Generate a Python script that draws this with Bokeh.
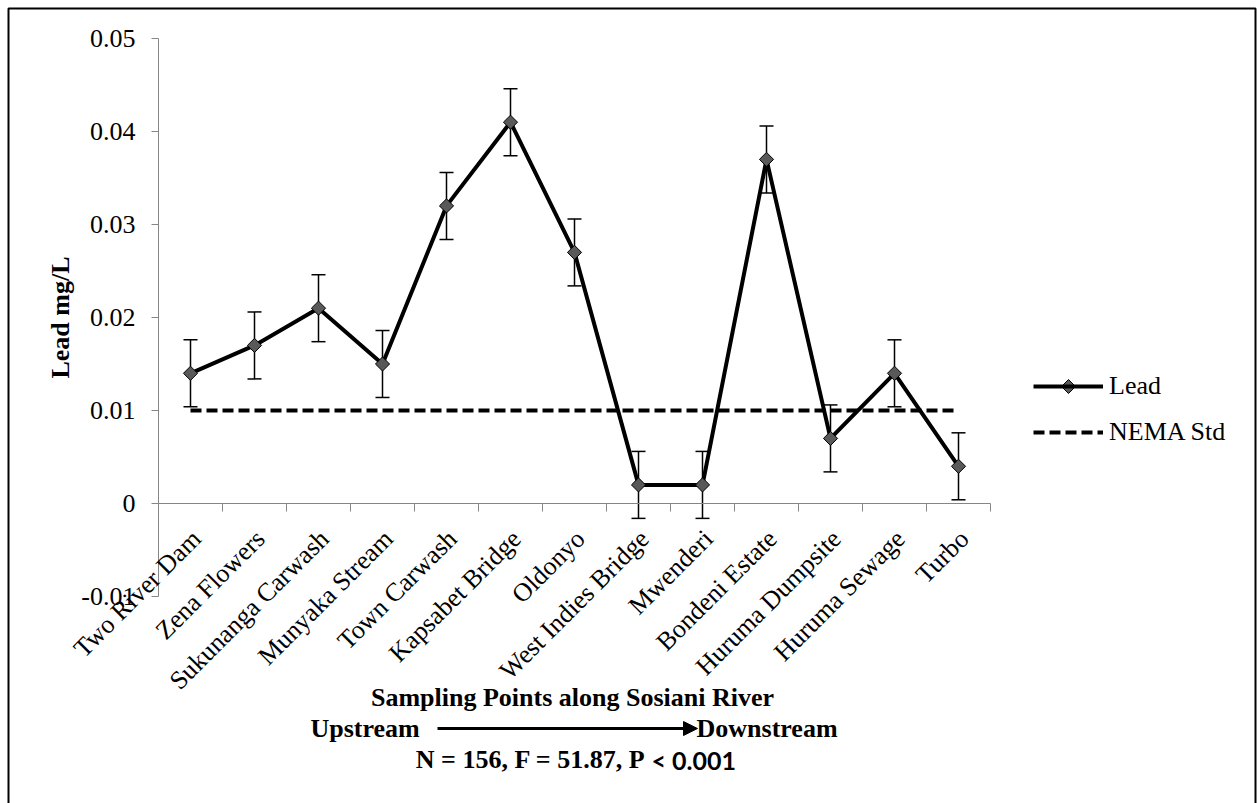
import math
from bokeh.plotting import figure
from bokeh.models import (Range1d, FixedTicker, ColumnDataSource, Whisker, TeeHead,
                          LabelSet, Label, Legend, LegendItem, Arrow, NormalHead, PolyAnnotation)
from bokeh.embed import file_html
from bokeh.resources import INLINE

# ---------------- data ----------------
categories = ["Two River Dam", "Zena Flowers", "Sukunanga Carwash", "Munyaka Stream",
              "Town Carwash", "Kapsabet Bridge", "Oldonyo", "West Indies Bridge",
              "Mwenderi", "Bondeni Estate", "Huruma Dumpsite", "Huruma Sewage", "Turbo"]
lead = [0.014, 0.017, 0.021, 0.015, 0.032, 0.041, 0.027, 0.002, 0.002, 0.037, 0.007, 0.014, 0.004]
lead_err = [0.0036, 0.0036, 0.0036, 0.0036, 0.0036, 0.0036, 0.0036,
            0.0036, 0.0036, 0.0036, 0.0036, 0.0036, 0.0036]
nema_std = [0.01, 0.01, 0.01, 0.01, 0.01, 0.01, 0.01, 0.01, 0.01, 0.01, 0.01, 0.01, 0.01]
y_ticks = [-0.01, 0, 0.01, 0.02, 0.03, 0.04, 0.05]
y_tick_labels = ["-0.01", "0", "0.01", "0.02", "0.03", "0.04", "0.05"]
y_title = "Lead mg/L"
x_title = "Sampling Points along Sosiani River"
stats_a = "N = 156, F = 51.87, P"
stats_b = "< 0.001"

# ---------------- layout (pixels in the page) ----------------
W, H = 1257, 803
AX_LEFT, AX_RIGHT = 158, 990       # x axis from first to last category boundary
AX_TOP, AX_BOTTOM = 38, 596        # y axis from 0.05 down to -0.01
n = len(categories)
y_lo, y_hi = y_ticks[0], y_ticks[-1]
px_per_x = (AX_RIGHT - AX_LEFT) / n
px_per_y = (AX_BOTTOM - AX_TOP) / (y_hi - y_lo)
# the plotting frame covers the whole canvas; ranges chosen so axes land on the pixels above
x_start = -AX_LEFT / px_per_x
x_end = n + (W - AX_RIGHT) / px_per_x
y_end = y_hi + AX_TOP / px_per_y
y_start = y_lo - (H - AX_BOTTOM) / px_per_y

SERIF = "Liberation Serif"
FS = "26px"


def sx(px):
    return px


def sy(py):
    return H - py


xs = [i + 0.5 for i in range(n)]

p = figure(width=W, height=H, x_range=Range1d(x_start, x_end), y_range=Range1d(y_start, y_end),
           output_backend="svg", toolbar_location=None,
           min_border_left=0, min_border_right=0, min_border_top=0, min_border_bottom=0)
p.outline_line_color = None
p.xgrid.visible = False
p.ygrid.visible = False
p.background_fill_color = "white"
p.border_fill_color = "white"

AX = "#868686"
# x axis drawn at y = 0
p.xaxis.fixed_location = 0
p.xaxis.bounds = (0, n)
p.xaxis.ticker = FixedTicker(ticks=list(range(n + 1)))
p.xaxis.major_label_overrides = {i: "" for i in range(n + 1)}
p.xaxis.major_label_text_font_size = "1px"
p.xaxis.major_tick_out = 8
p.xaxis.major_tick_in = 0
p.xaxis.minor_tick_line_color = None
p.xaxis.axis_line_color = AX
p.xaxis.major_tick_line_color = AX

# y axis drawn at x = 0
p.yaxis.fixed_location = 0
p.yaxis.bounds = (y_lo, y_hi)
p.yaxis.ticker = FixedTicker(ticks=y_ticks)
p.yaxis.major_label_overrides = dict(zip(y_ticks, y_tick_labels))
p.yaxis.major_tick_out = 7
p.yaxis.major_tick_in = 0
p.yaxis.minor_tick_line_color = None
p.yaxis.axis_line_color = AX
p.yaxis.major_tick_line_color = AX
p.yaxis.major_label_text_font = SERIF
p.yaxis.major_label_text_font_size = FS
p.yaxis.major_label_text_color = "black"
p.yaxis.major_label_standoff = 16

# y axis title
p.add_layout(Label(x=sx(60), y=sy(317), x_units="screen", y_units="screen", text=y_title,
                   angle=math.pi / 2, text_align="center", text_baseline="middle",
                   text_font=SERIF, text_font_size=FS, text_font_style="bold",
                   text_color="black"))

# error bars
err_src = ColumnDataSource(dict(x=xs,
                                upper=[v + e for v, e in zip(lead, lead_err)],
                                lower=[v - e for v, e in zip(lead, lead_err)]))
whisk = Whisker(source=err_src, base="x", upper="upper", lower="lower", dimension="height",
                line_color="black", line_width=1.5, level="underlay",
                upper_head=TeeHead(size=14, line_color="black", line_width=1.5),
                lower_head=TeeHead(size=14, line_color="black", line_width=1.5))
p.add_layout(whisk)

nema_r = p.line(xs, nema_std, line_color="black", line_width=4, line_dash="11 5")
lead_r = p.line(xs, lead, line_color="black", line_width=4)
mark_r = p.scatter(xs, lead, marker="square", angle=math.pi / 4, size=10,
                   fill_color="#595959", line_color="black", line_width=1)

# category labels (rotated, ending just below the x axis)
lab_src = ColumnDataSource(dict(x=xs, text=categories))
labels = LabelSet(x="x", y=0, text="text", source=lab_src, angle=math.pi / 4,
                  text_align="right", text_baseline="alphabetic", x_offset=12, y_offset=-37,
                  text_font=SERIF, text_font_size=FS, text_color="black")
p.add_layout(labels)

# legend
LEG_X, LEG_Y1, LEG_Y2, LEG_GW = 1033, 386, 432, 70
legend = Legend(items=[LegendItem(label="Lead", renderers=[lead_r]),
                       LegendItem(label="NEMA Std", renderers=[nema_r])],
                location=(sx(LEG_X), sy(LEG_Y2 + 15)), orientation="vertical",
                glyph_width=LEG_GW, glyph_height=30, label_height=30, label_standoff=6,
                spacing=LEG_Y2 - LEG_Y1 - 30, padding=0, margin=0, border_line_color=None,
                background_fill_alpha=0, label_text_font=SERIF, label_text_font_size=FS,
                label_text_color="black")
p.add_layout(legend)
# diamond marker of the "Lead" legend entry
cx, cy, r = LEG_X + LEG_GW / 2, LEG_Y1, 7
p.add_layout(PolyAnnotation(xs=[sx(cx - r), sx(cx), sx(cx + r), sx(cx)],
                            ys=[sy(cy), sy(cy - r), sy(cy), sy(cy + r)],
                            xs_units="screen", ys_units="screen",
                            fill_color="#595959", fill_alpha=1,
                            line_color="black", line_alpha=1, line_width=1))

# bottom texts
p.add_layout(Label(x=sx(572), y=sy(697), x_units="screen", y_units="screen", text=x_title,
                   text_align="center", text_baseline="middle", text_font=SERIF,
                   text_font_size=FS, text_font_style="bold", text_color="black"))
p.add_layout(Label(x=sx(310), y=sy(728), x_units="screen", y_units="screen", text="Upstream",
                   text_align="left", text_baseline="middle", text_font=SERIF,
                   text_font_size=FS, text_font_style="bold", text_color="black"))
p.add_layout(Label(x=sx(696), y=sy(728), x_units="screen", y_units="screen", text="Downstream",
                   text_align="left", text_baseline="middle", text_font=SERIF,
                   text_font_size=FS, text_font_style="bold", text_color="black"))
p.add_layout(Arrow(x_start=sx(437), y_start=sy(728), x_end=sx(697), y_end=sy(728),
                   start_units="screen", end_units="screen", line_color="black", line_width=3,
                   end=NormalHead(size=14, fill_color="black", line_color="black")))
p.add_layout(Label(x=sx(645), y=sy(759), x_units="screen", y_units="screen", text=stats_a,
                   text_align="right", text_baseline="middle", text_font=SERIF,
                   text_font_size=FS, text_font_style="bold", text_color="black"))
p.add_layout(Label(x=sx(651), y=sy(759), x_units="screen", y_units="screen", text=stats_b,
                   text_align="left", text_baseline="middle", text_font="Lato",
                   text_font_size="25px", text_font_style="bold", text_color="black"))

# chart-area border (bottom edge lies just outside the picture)
p.add_layout(PolyAnnotation(xs=[sx(8), sx(1255), sx(1255), sx(8)],
                            ys=[sy(8), sy(8), sy(806), sy(806)],
                            xs_units="screen", ys_units="screen",
                            fill_alpha=0, line_color="black", line_alpha=1, line_width=2))

open("out.html", "w").write(file_html(p, INLINE))
